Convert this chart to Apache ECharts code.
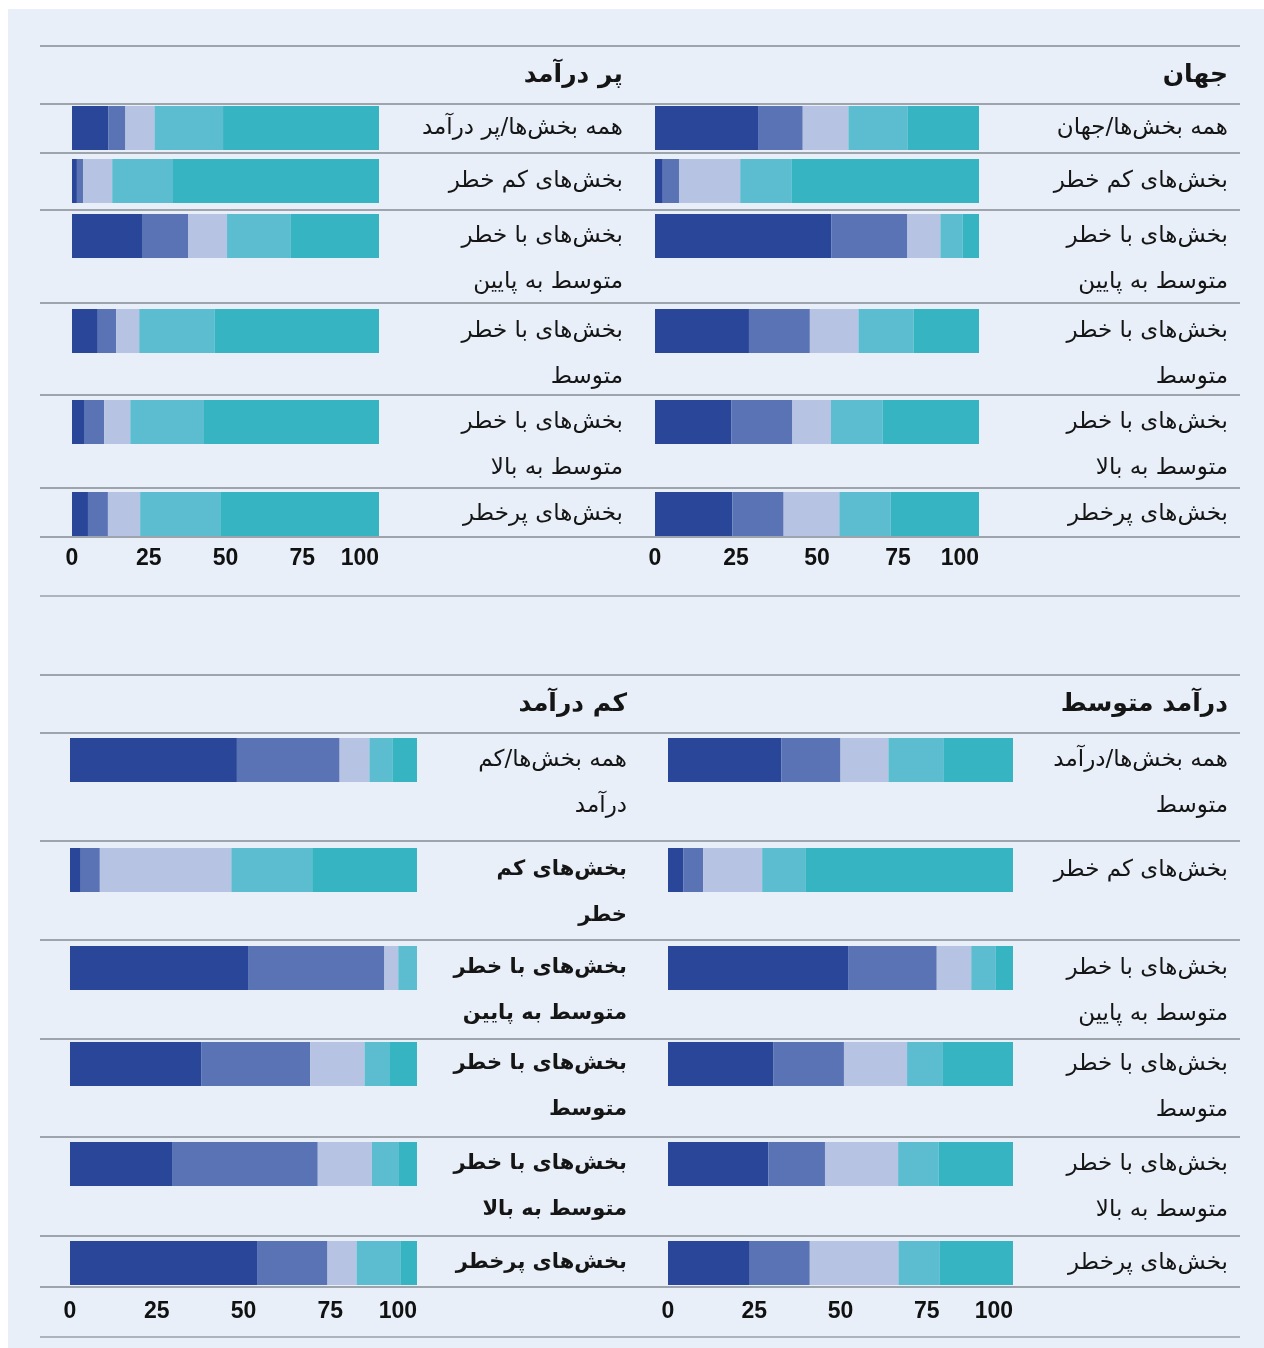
<!DOCTYPE html>
<html>
<head>
<meta charset="utf-8">
<script src="https://cdn.jsdelivr.net/npm/echarts@6/dist/echarts.min.js"></script>
<style>
  html, body { margin: 0; padding: 0; background: #ffffff; overflow: hidden; }
  #chart { width: 1264px; height: 1348px; }
</style>
</head>
<body>
<div id="chart"></div>
<script>
// --- data ---
const ZW = "\u200c";
const titles = ["جهان", "پر درآمد", "درآمد متوسط", "کم درآمد"];

const labelsWorld = [
  "همه بخش" + ZW + "ها/جهان",
  "بخش" + ZW + "های کم خطر",
  "بخش" + ZW + "های با خطر\nمتوسط به پایین",
  "بخش" + ZW + "های با خطر\nمتوسط",
  "بخش" + ZW + "های با خطر\nمتوسط به بالا",
  "بخش" + ZW + "های پرخطر"
];
const labelsHigh = [
  "همه بخش" + ZW + "ها/پر درآمد",
  "بخش" + ZW + "های کم خطر",
  "بخش" + ZW + "های با خطر\nمتوسط به پایین",
  "بخش" + ZW + "های با خطر\nمتوسط",
  "بخش" + ZW + "های با خطر\nمتوسط به بالا",
  "بخش" + ZW + "های پرخطر"
];
const labelsMiddle = [
  "همه بخش" + ZW + "ها/درآمد\nمتوسط",
  "بخش" + ZW + "های کم خطر",
  "بخش" + ZW + "های با خطر\nمتوسط به پایین",
  "بخش" + ZW + "های با خطر\nمتوسط",
  "بخش" + ZW + "های با خطر\nمتوسط به بالا",
  "بخش" + ZW + "های پرخطر"
];
const labelsLow = [
  "همه بخش" + ZW + "ها/کم\nدرآمد",
  "بخش" + ZW + "های کم\nخطر",
  "بخش" + ZW + "های با خطر\nمتوسط به پایین",
  "بخش" + ZW + "های با خطر\nمتوسط",
  "بخش" + ZW + "های با خطر\nمتوسط به بالا",
  "بخش" + ZW + "های پرخطر"
];

// shares per row, 5 segments (dark blue -> teal)
const valuesWorld = [
  [31.8, 13.8, 14.1, 18.2, 22.1],
  [2.4, 5.0, 18.9, 15.8, 57.9],
  [54.4, 23.5, 10.2, 6.8, 5.1],
  [29.0, 18.8, 15.0, 17.0, 20.2],
  [23.6, 18.8, 11.9, 16.0, 29.7],
  [23.9, 15.8, 17.2, 15.8, 27.3]
];
const valuesHigh = [
  [11.8, 5.6, 9.5, 22.3, 50.8],
  [1.6, 2.0, 9.5, 19.8, 67.1],
  [22.8, 15.1, 12.6, 20.8, 28.7],
  [8.4, 6.0, 7.5, 24.5, 53.6],
  [3.9, 6.6, 8.5, 24.0, 57.0],
  [5.2, 6.5, 10.5, 26.1, 51.7]
];
const valuesMiddle = [
  [32.9, 17.1, 13.9, 15.9, 20.2],
  [4.5, 5.7, 17.1, 12.5, 60.2],
  [52.2, 25.7, 10.0, 7.0, 5.1],
  [30.6, 20.4, 18.3, 10.4, 20.3],
  [29.1, 16.4, 21.2, 11.7, 21.6],
  [23.7, 17.4, 25.7, 12.0, 21.2]
];
const valuesLow = [
  [48.1, 29.6, 8.6, 6.6, 7.1],
  [3.1, 5.5, 37.9, 23.3, 30.2],
  [51.5, 39.1, 4.0, 5.4, 0],
  [37.8, 31.4, 15.7, 7.1, 8.0],
  [29.6, 41.8, 15.6, 7.6, 5.4],
  [53.9, 20.3, 8.4, 12.6, 4.8]
];
const tickLabels = [0, 25, 50, 75, 100];

// --- layout / style ---
const colors = ["#2a4699", "#5a73b5", "#b6c3e2", "#5bbdcf", "#37b4c1"];
const textColor = "#151515";
const lineColor = "#858b93";

const blocks = [
  { top: 46, head: 104, rowTops: [104, 153, 210, 303, 395, 488], end: 537, bottom: 596,
    barTops: [106, 159, 214, 309, 400, 492], tickMargin: 11 },
  { top: 675, head: 733, rowTops: [733, 841, 940, 1039, 1137, 1236], end: 1287, bottom: 1337,
    barTops: [738, 848, 946, 1042, 1142, 1241], tickMargin: 15 }
];

const panels = [
  { title: titles[0], labels: labelsWorld, values: valuesWorld, block: 0,
    barLeft: 655, barRight: 979, textX: 1228, bold: [] },
  { title: titles[1], labels: labelsHigh, values: valuesHigh, block: 0,
    barLeft: 72, barRight: 379, textX: 623, bold: [] },
  { title: titles[2], labels: labelsMiddle, values: valuesMiddle, block: 1,
    barLeft: 668, barRight: 1013, textX: 1228, bold: [] },
  { title: titles[3], labels: labelsLow, values: valuesLow, block: 1,
    barLeft: 70, barRight: 417, textX: 627, bold: [1, 2, 3, 4, 5] }
];

const BAR_H = 44;
const LINE_H = 46;
const arabicFont = '"DejaVu Sans"';

const grids = [], xAxes = [], yAxes = [], series = [], graphics = [];

graphics.push({ type: "rect", silent: true, z: -10,
  shape: { x: 8, y: 9, width: 1260, height: 1345 }, style: { fill: "#e8eff8" } });

blocks.forEach(b => {
  const ys = [b.top, b.head].concat(b.rowTops.slice(1), [b.end, b.bottom]);
  ys.forEach((y, i) => {
    graphics.push({ type: "line", silent: true,
      shape: { x1: 40, y1: y, x2: 1240, y2: y },
      style: { stroke: i === ys.length - 1 ? "#98a0aa" : lineColor, lineWidth: 1.6 } });
  });
});

panels.forEach(p => {
  const b = blocks[p.block];
  graphics.push({ type: "text", silent: true, x: p.textX, y: (b.top + b.head) / 2,
    style: { text: p.title, fill: textColor, font: 'bold 25px ' + arabicFont,
      align: "right", verticalAlign: "middle" } });

  p.labels.forEach((lab, r) => {
    const gi = grids.length;
    const barTop = b.barTops[r];
    const last = r === p.labels.length - 1;
    grids.push({ left: p.barLeft, top: barTop, width: p.barRight - p.barLeft, height: BAR_H });
    xAxes.push({
      type: "value", gridIndex: gi, min: 0, max: 100, interval: 25,
      axisLine: { show: false }, axisTick: { show: false }, splitLine: { show: false },
      axisLabel: {
        show: last, margin: b.tickMargin, color: "#111",
        fontFamily: '"Liberation Sans", Arial, sans-serif', fontWeight: "bold", fontSize: 23,
        alignMaxLabel: "right",
        formatter: v => tickLabels.indexOf(v) >= 0 ? String(v) : ""
      }
    });
    yAxes.push({ type: "category", gridIndex: gi, data: [lab], show: false });
    p.values[r].forEach((v, s) => {
      series.push({
        type: "bar", xAxisIndex: gi, yAxisIndex: gi, stack: "g" + gi,
        barWidth: BAR_H, data: [v], silent: true,
        itemStyle: { color: colors[s] }
      });
    });

    const cy = barTop + BAR_H / 2;
    const isBold = p.bold.indexOf(r) >= 0;
    const font = (isBold ? "bold 21px " : "normal 23px ") + arabicFont;
    graphics.push({ type: "text", silent: true, x: p.textX, y: cy - LINE_H / 2,
      style: { text: lab, fill: textColor, font: font,
        align: "right", verticalAlign: "top", lineHeight: LINE_H } });
  });
});

const chart = echarts.init(document.getElementById("chart"));
chart.setOption({
  animation: false,
  backgroundColor: "#ffffff",
  grid: grids,
  xAxis: xAxes,
  yAxis: yAxes,
  series: series,
  graphic: graphics
});
</script>
</body>
</html>
